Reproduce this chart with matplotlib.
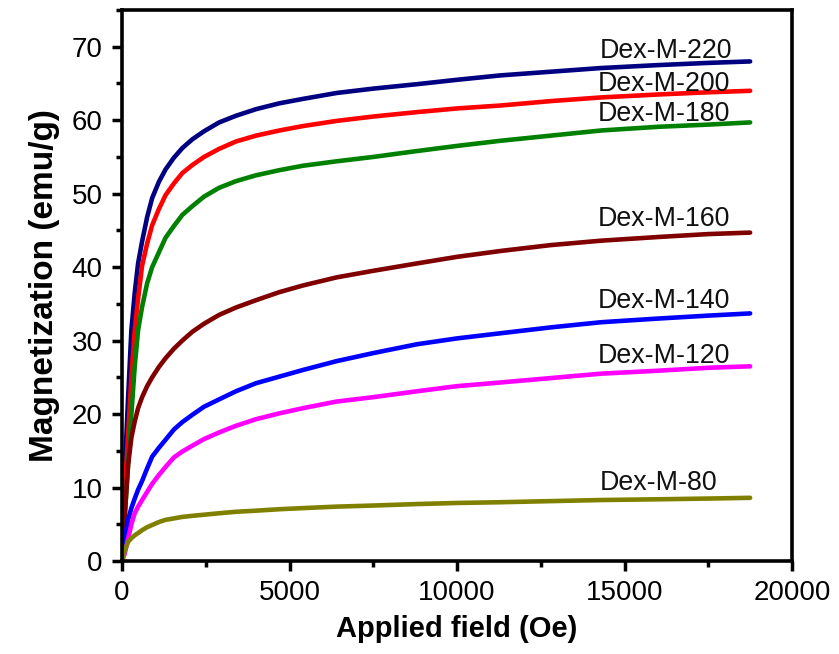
import matplotlib
matplotlib.use("Agg")
import matplotlib.pyplot as plt
from matplotlib.ticker import MultipleLocator

plt.rcParams['font.family'] = ['Liberation Sans', 'DejaVu Sans']

field = [0, 80, 180, 280, 380, 480, 600, 750, 900, 1100, 1300, 1550, 1800, 2100, 2450,
         2900, 3400, 4000, 4700, 5400, 6400, 7500, 8800, 10000, 11300, 12800, 14300,
         16000, 17500, 18750]

m220 = [0, 12, 22, 31.4, 36.5, 40.5, 43.5, 46.8, 49.4, 51.6, 53.3, 54.9, 56.2, 57.4, 58.5,
        59.7, 60.6, 61.5, 62.3, 62.9, 63.7, 64.3, 64.9, 65.5, 66.1, 66.6, 67.1,
        67.5, 67.8, 68.0]
m200 = [0, 9, 17, 25, 31.4, 35.7, 40.2, 43.2, 45.7, 47.9, 49.8, 51.4, 52.8, 53.9, 55.0,
        56.1, 57.1, 57.9, 58.6, 59.2, 59.9, 60.5, 61.1, 61.6, 62.0, 62.6, 63.1,
        63.5, 63.8, 64.0]
m180 = [0, 6, 13, 20, 26.5, 31.4, 34.6, 37.8, 40.0, 42.0, 44.0, 45.6, 47.1, 48.3, 49.6,
        50.8, 51.7, 52.5, 53.2, 53.8, 54.4, 55.0, 55.8, 56.5, 57.2, 57.9, 58.6,
        59.1, 59.4, 59.7]
m160 = [0, 6, 13, 16.8, 19.0, 20.8, 22.3, 23.8, 25.0, 26.4, 27.6, 28.9, 30.0, 31.2, 32.3,
        33.5, 34.5, 35.5, 36.6, 37.5, 38.6, 39.5, 40.5, 41.4, 42.2, 43.0, 43.6,
        44.1, 44.5, 44.7]
m140 = [0, 2.8, 5.6, 7.2, 8.5, 9.7, 10.9, 12.6, 14.2, 15.4, 16.5, 17.9, 18.9, 19.9, 21.0,
        22.0, 23.1, 24.2, 25.1, 26.0, 27.2, 28.3, 29.5, 30.3, 31.0, 31.8, 32.5,
        33.0, 33.4, 33.7]
m120 = [0, 1.0, 3.0, 5.0, 6.5, 7.4, 8.3, 9.4, 10.5, 11.7, 12.8, 14.1, 14.9, 15.7, 16.6,
        17.5, 18.4, 19.3, 20.1, 20.8, 21.7, 22.3, 23.1, 23.8, 24.3, 24.9, 25.5,
        25.9, 26.3, 26.5]
m80 = [0, 1.4, 2.6, 3.1, 3.5, 3.8, 4.2, 4.6, 4.9, 5.3, 5.6, 5.8, 6.0, 6.15, 6.3,
       6.5, 6.7, 6.85, 7.05, 7.2, 7.4, 7.55, 7.75, 7.9, 8.0, 8.15, 8.3,
       8.4, 8.5, 8.6]

names = ['Dex-M-220', 'Dex-M-200', 'Dex-M-180', 'Dex-M-160', 'Dex-M-140', 'Dex-M-120', 'Dex-M-80']
series = [m220, m200, m180, m160, m140, m120, m80]
colors = ['#000080', '#FF0000', '#008000', '#800000', '#0000FF', '#FF00FF', '#808000']
# label placement (layout): x of right edge, y offset above curve end
label_x = [18210, 18150, 18150, 18150, 18150, 18150, 17760]
label_dy = [0.5, 0.0, 0.2, 0.9, 0.8, 0.4, 1.05]

fig = plt.figure(figsize=(8.39, 6.54), dpi=100)
ax = fig.add_axes([122/839, 1-561/654, (792-122)/839, (561-10)/654])

for name, ys, c, lx, dy in zip(names, series, colors, label_x, label_dy):
    ax.plot(field, ys, color=c, lw=3.3, solid_capstyle='round', solid_joinstyle='round')
    ax.text(lx, ys[-1] + dy, name, ha='right', va='baseline', fontsize=19.3, color='#111111')

ax.set_xlim(0, 20000)
ax.set_ylim(0, 75)
ax.xaxis.set_major_locator(MultipleLocator(5000))
ax.xaxis.set_minor_locator(MultipleLocator(2500))
ax.yaxis.set_major_locator(MultipleLocator(10))
ax.yaxis.set_minor_locator(MultipleLocator(5))
ax.tick_params(which='major', direction='out', length=7, width=2.5, labelsize=20, pad=7)
ax.tick_params(which='minor', direction='out', length=4, width=2.5)
for s in ax.spines.values():
    s.set_linewidth(2.6)

ax.set_xlabel('Applied field (Oe)', fontsize=21, fontweight='bold', labelpad=6)
ax.set_ylabel('Magnetization (emu/g)', fontsize=24, fontweight='bold', labelpad=8)

fig.savefig('out.png', dpi=100)
